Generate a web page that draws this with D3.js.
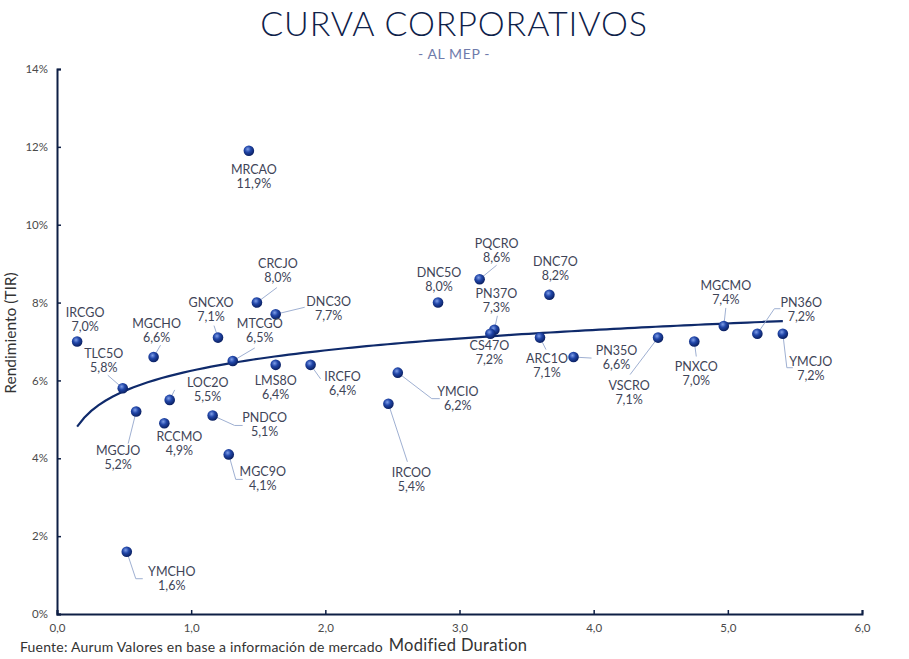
<!DOCTYPE html>
<html>
<head>
<meta charset="utf-8">
<script src="https://cdn.jsdelivr.net/npm/d3@7"></script>
<style>
  body { margin: 0; background: #fff; }
  svg text { font-family: "Lato", "Open Sans", sans-serif; }
</style>
</head>
<body>
<svg id="chart" width="909" height="659"></svg>
<script>
// bonos: ticker, duration modificada, TIR (%)
var tickers = ["IRCGO","TLC5O","MGCJO","MGCHO","RCCMO","LOC2O","PNDCO","GNCXO","MGC9O","MTCGO",
  "MRCAO","CRCJO","DNC3O","LMS8O","IRCFO","IRCOO","YMCIO","DNC5O","PQCRO","PN37O",
  "CS47O","ARC1O","DNC7O","PN35O","VSCRO","PNXCO","MGCMO","PN36O","YMCJO","YMCHO"];
var durations = [0.15,0.49,0.59,0.72,0.80,0.84,1.16,1.20,1.28,1.31,
  1.43,1.49,1.63,1.63,1.89,2.47,2.54,2.84,3.15,3.26,
  3.23,3.60,3.67,3.85,4.48,4.75,4.97,5.22,5.41,0.52];
var yields = [7.0,5.8,5.2,6.6,4.9,5.5,5.1,7.1,4.1,6.5,
  11.9,8.0,7.7,6.4,6.4,5.4,6.2,8.0,8.6,7.3,
  7.2,7.1,8.2,6.6,7.1,7.0,7.4,7.2,7.2,1.6];
var xTicks = [0,1,2,3,4,5,6];
var yTicks = [0,2,4,6,8,10,12,14];

// donde va cada etiqueta respecto del punto (px): [dx, dy] del centro del nombre
// y el quiebre del conector (null = sin conector)
var labelOffsets = [
  [8,-29,null],[-19,-34,[[-15,-13]]],[-18,39,[[-8,32]]],[3,-33,[[7,-12]]],[15,14,null],
  [38,-17,[[5,-10]]],[52,3,[[22,10],[30,10]]],[-7,-35,[[-4,-12]]],[34,18,[[7,25],[14,25]]],
  [27,-37,[[22,-13]]],
  [5,19,null],[21,-39,[[20,-15]]],[53,-12,[[29,-7]]],[0,16,null],[32,12,[[10,14]]],
  [23,69,[[19,58]]],[60,19,[[34,26],[42,26]]],[1,-30,null],[17,-35,[[17,-14]]],[2,-36,[[3,-14]]],
  [-1,12,null],[7,21,[[6,12]]],[6,-33,null],[43,-6,[[18,1]]],[-29,48,[[-28,37]]],
  [2,25,[[2,15]]],[2,-40,[[2,-18]]],[44,-31,[[17,-25],[23,-25]]],[28,28,[[4,34],[10,34]]],
  [45,20,[[9,27],[16,27]]]
];

var data = tickers.map(function(t, i){
  return { name: t, x: durations[i], y: yields[i], lab: labelOffsets[i] };
});

var svg = d3.select("#chart");
var margin = { left: 57, right: 47, top: 69, bottom: 45 };
var W = 909, H = 659;

var x = d3.scaleLinear().domain([0, 6]).range([margin.left, W - margin.right]);
var y = d3.scaleLinear().domain([0, 14]).range([H - margin.bottom, margin.top]);

function fmt(v, d){ return v.toFixed(d).replace(".", ","); }

// gradiente para las bolitas
var defs = svg.append("defs");
var grad = defs.append("radialGradient").attr("id", "ball")
  .attr("cx", "40%").attr("cy", "35%").attr("r", "65%");
grad.append("stop").attr("offset", "0%").attr("stop-color", "#7f9ee8");
grad.append("stop").attr("offset", "45%").attr("stop-color", "#2146a8");
grad.append("stop").attr("offset", "100%").attr("stop-color", "#0a1f60");

// titulos
svg.append("text").attr("x", 454).attr("y", 36).attr("text-anchor", "middle")
  .attr("font-size", 34).attr("font-weight", 300).attr("fill", "#0e2149")
  .attr("letter-spacing", 0.9).text("CURVA CORPORATIVOS");
svg.append("text").attr("x", 454).attr("y", 59).attr("text-anchor", "middle")
  .attr("font-size", 14).attr("fill", "#6f7bab").attr("letter-spacing", 0.6)
  .text("- AL MEP -");

// ejes
var xAxis = d3.axisBottom(x).tickValues(xTicks).tickSize(-4).tickPadding(10)
  .tickFormat(function(d){ return fmt(d, 1); });
var gx = svg.append("g").attr("transform", "translate(0," + y(0) + ")").call(xAxis);
var yAxis = d3.axisLeft(y).tickValues(yTicks).tickSize(-4).tickPadding(9)
  .tickFormat(function(d){ return d + "%"; });
var gy = svg.append("g").attr("transform", "translate(" + x(0) + ",0)").call(yAxis);
[gx, gy].forEach(function(g){
  g.select(".domain").attr("stroke", "#0e1f45").attr("stroke-width", 2);
  g.selectAll(".tick line").attr("stroke", "#0e1f45").attr("stroke-width", 1.5);
  g.selectAll(".tick text").attr("fill", "#4a4a4a").attr("font-size", 11.5);
});

svg.append("text").attr("transform", "translate(16,333) rotate(-90)")
  .attr("text-anchor", "middle").attr("font-size", 15.5).attr("fill", "#333")
  .text("Rendimiento (TIR)");
svg.append("text").attr("x", 458).attr("y", 651).attr("text-anchor", "middle")
  .attr("font-size", 16.5).attr("fill", "#333").attr("letter-spacing", 0.3)
  .text("Modified Duration");
svg.append("text").attr("x", 20).attr("y", 652)
  .attr("font-size", 14).attr("fill", "#333").attr("letter-spacing", 0.2)
  .text("Fuente: Aurum Valores en base a información de mercado");

// tendencia logaritmica (minimos cuadrados sobre ln(x))
var lx = data.map(function(d){ return Math.log(d.x); });
var mx = d3.mean(lx), my = d3.mean(yields);
var b = d3.sum(lx, function(v, i){ return (v - mx) * (yields[i] - my); }) /
        d3.sum(lx, function(v){ return (v - mx) * (v - mx); });
var a = my - b * mx;
var xMin = d3.min(durations), xMax = d3.max(durations);
var trend = d3.range(0, 101).map(function(i){
  var xv = xMin + (xMax - xMin) * i / 100;
  return [xv, a + b * Math.log(xv)];
});
svg.append("path").datum(trend)
  .attr("d", d3.line().x(function(d){ return x(d[0]); }).y(function(d){ return y(d[1]); }))
  .attr("fill", "none").attr("stroke", "#0f2a6b").attr("stroke-width", 2.2);

// conectores
svg.append("g").selectAll("path").data(data.filter(function(d){ return d.lab[2]; }))
  .enter().append("path")
  .attr("d", function(d){
    var px = x(d.x), py = y(d.y);
    var pts = [[px, py]].concat(d.lab[2].map(function(p){ return [px + p[0], py + p[1]]; }));
    return d3.line()(pts);
  })
  .attr("fill", "none").attr("stroke", "#9fb0d2").attr("stroke-width", 1);

// puntos
svg.append("g").selectAll("circle").data(data).enter().append("circle")
  .attr("cx", function(d){ return x(d.x); })
  .attr("cy", function(d){ return y(d.y); })
  .attr("r", 5.3)
  .attr("fill", "url(#ball)");

// etiquetas
var labels = svg.append("g").selectAll("text").data(data).enter().append("text")
  .attr("text-anchor", "middle").attr("font-size", 12.5).attr("fill", "#3e4457");
labels.append("tspan")
  .attr("x", function(d){ return x(d.x) + d.lab[0]; })
  .attr("y", function(d){ return y(d.y) + d.lab[1] + 4; })
  .text(function(d){ return d.name; });
labels.append("tspan")
  .attr("x", function(d){ return x(d.x) + d.lab[0]; })
  .attr("y", function(d){ return y(d.y) + d.lab[1] + 18; })
  .text(function(d){ return fmt(d.y, 1) + "%"; });
</script>
</body>
</html>
